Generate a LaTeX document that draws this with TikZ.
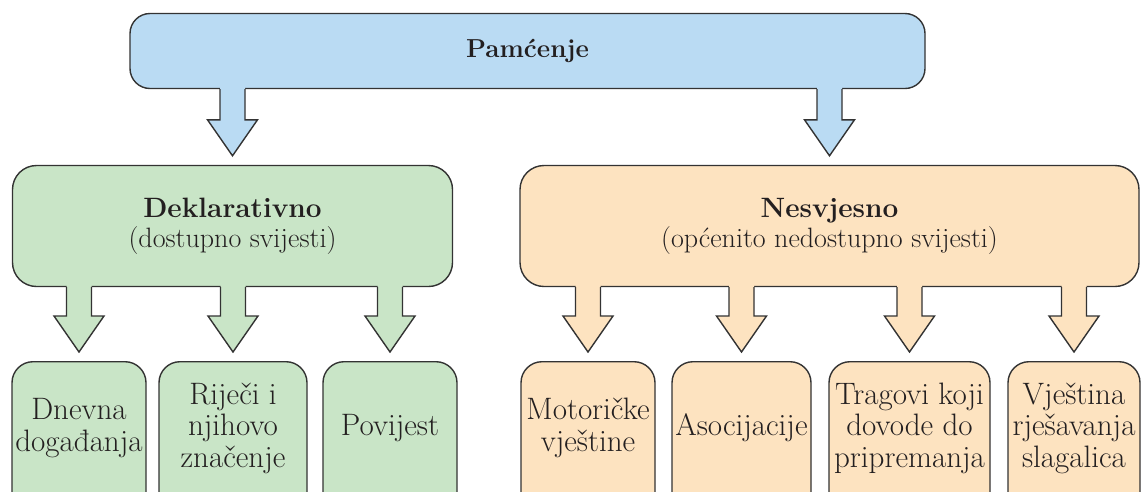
\documentclass[tikz,border=0pt]{standalone}
\usepackage{fontspec}
\usepackage{tikz}
\usetikzlibrary{calc}

\definecolor{memblue}{HTML}{BADBF3}
\definecolor{memgreen}{HTML}{C9E5C7}
\definecolor{memorange}{HTML}{FDE3C0}
\definecolor{memline}{HTML}{333333}
\definecolor{memtext}{HTML}{231F20}

% fat block arrow from a parent box down to a child box
\newcommand{\fatarrow}[3]{%
  \coordinate (fa-s) at (#1.south -| #2.north);
  \coordinate (fa-t) at ($(#2.north)+(0,-9)$);
  \fill[#3] ($(fa-s)+(-12.5,-2)$) -- ($(fa-t)+(-12.5,-36)$) -- ($(fa-t)+(-25,-36)$)
    -- (fa-t) -- ($(fa-t)+(25,-36)$) -- ($(fa-t)+(12.5,-36)$) -- ($(fa-s)+(12.5,-2)$) -- cycle;
  \draw[outline] ($(fa-s)+(-12.5,0)$) -- ($(fa-t)+(-12.5,-36)$) -- ($(fa-t)+(-25,-36)$)
    -- (fa-t) -- ($(fa-t)+(25,-36)$) -- ($(fa-t)+(12.5,-36)$) -- ($(fa-s)+(12.5,0)$);
}

\begin{document}
\begin{tikzpicture}[
    x=1pt, y=-1pt,
    outline/.style={draw=memline, line width=1.4pt, line join=miter},
    every node/.style={text=memtext},
    topbox/.style={outline, fill=memblue, rounded corners=20, minimum width=795, minimum height=75,
        font=\fontsize{26}{30}\selectfont\bfseries},
    midbox/.style={outline, rounded corners=24, minimum height=121, align=center,
        font=\fontsize{28}{30}\selectfont},
    leafbox/.style={outline, rounded corners=21, minimum height=160, anchor=north},
    leaftext/.style={align=center, inner sep=0pt, font=\fontsize{31}{31.5}\selectfont}
]
\useasboundingbox (0,0) rectangle (1142,491);
\clip (0,0) rectangle (1142,491);

% top level
\node[topbox] (mem) at (527.5,51) {Pamćenje};

% second level
\node[midbox, fill=memgreen, minimum width=440] (dekl) at (232.5,226)
    {{\bfseries Deklarativno}\\(dostupno svijesti)};
\node[midbox, fill=memorange, minimum width=619] (nesv) at (829.5,226)
    {{\bfseries Nesvjesno}\\(općenito nedostupno svijesti)};

% leaves under Deklarativno
\node[leafbox, fill=memgreen, minimum width=134] (d1) at (79,361) {};
\node[leafbox, fill=memgreen, minimum width=148] (d2) at (233,361) {};
\node[leafbox, fill=memgreen, minimum width=134] (d3) at (390,361) {};
\node[leaftext] (d1t) at ($(d1.north)+(0,67)$) {Dnevna\\događanja};
\node[leaftext] (d2t) at ($(d2.north)+(0,67)$) {Riječi i\\njihovo\\značenje};
\node[leaftext] (d3t) at ($(d3.north)+(0,67)$) {Povijest};

% leaves under Nesvjesno
\node[leafbox, fill=memorange, minimum width=134] (n1) at (588,361) {};
\node[leafbox, fill=memorange, minimum width=139] (n2) at (741.5,361) {};
\node[leafbox, fill=memorange, minimum width=161] (n3) at (909.5,361) {};
\node[leafbox, fill=memorange, minimum width=132] (n4) at (1074,361) {};
\node[leaftext] (n1t) at ($(n1.north)+(0,67)$) {Motoričke\\vještine};
\node[leaftext] (n2t) at ($(n2.north)+(0,67)$) {Asocijacije};
\node[leaftext] (n3t) at ($(n3.north)+(0,67)$) {Tragovi koji\\dovode do\\pripremanja};
\node[leaftext] (n4t) at ($(n4.north)+(0,67)$) {Vještina\\rješavanja\\slagalica};

% arrows
\fatarrow{mem}{dekl}{memblue}
\fatarrow{mem}{nesv}{memblue}
\foreach \leaf in {d1,d2,d3} {\fatarrow{dekl}{\leaf}{memgreen}}
\foreach \leaf in {n1,n2,n3,n4} {\fatarrow{nesv}{\leaf}{memorange}}
\end{tikzpicture}
\end{document}
